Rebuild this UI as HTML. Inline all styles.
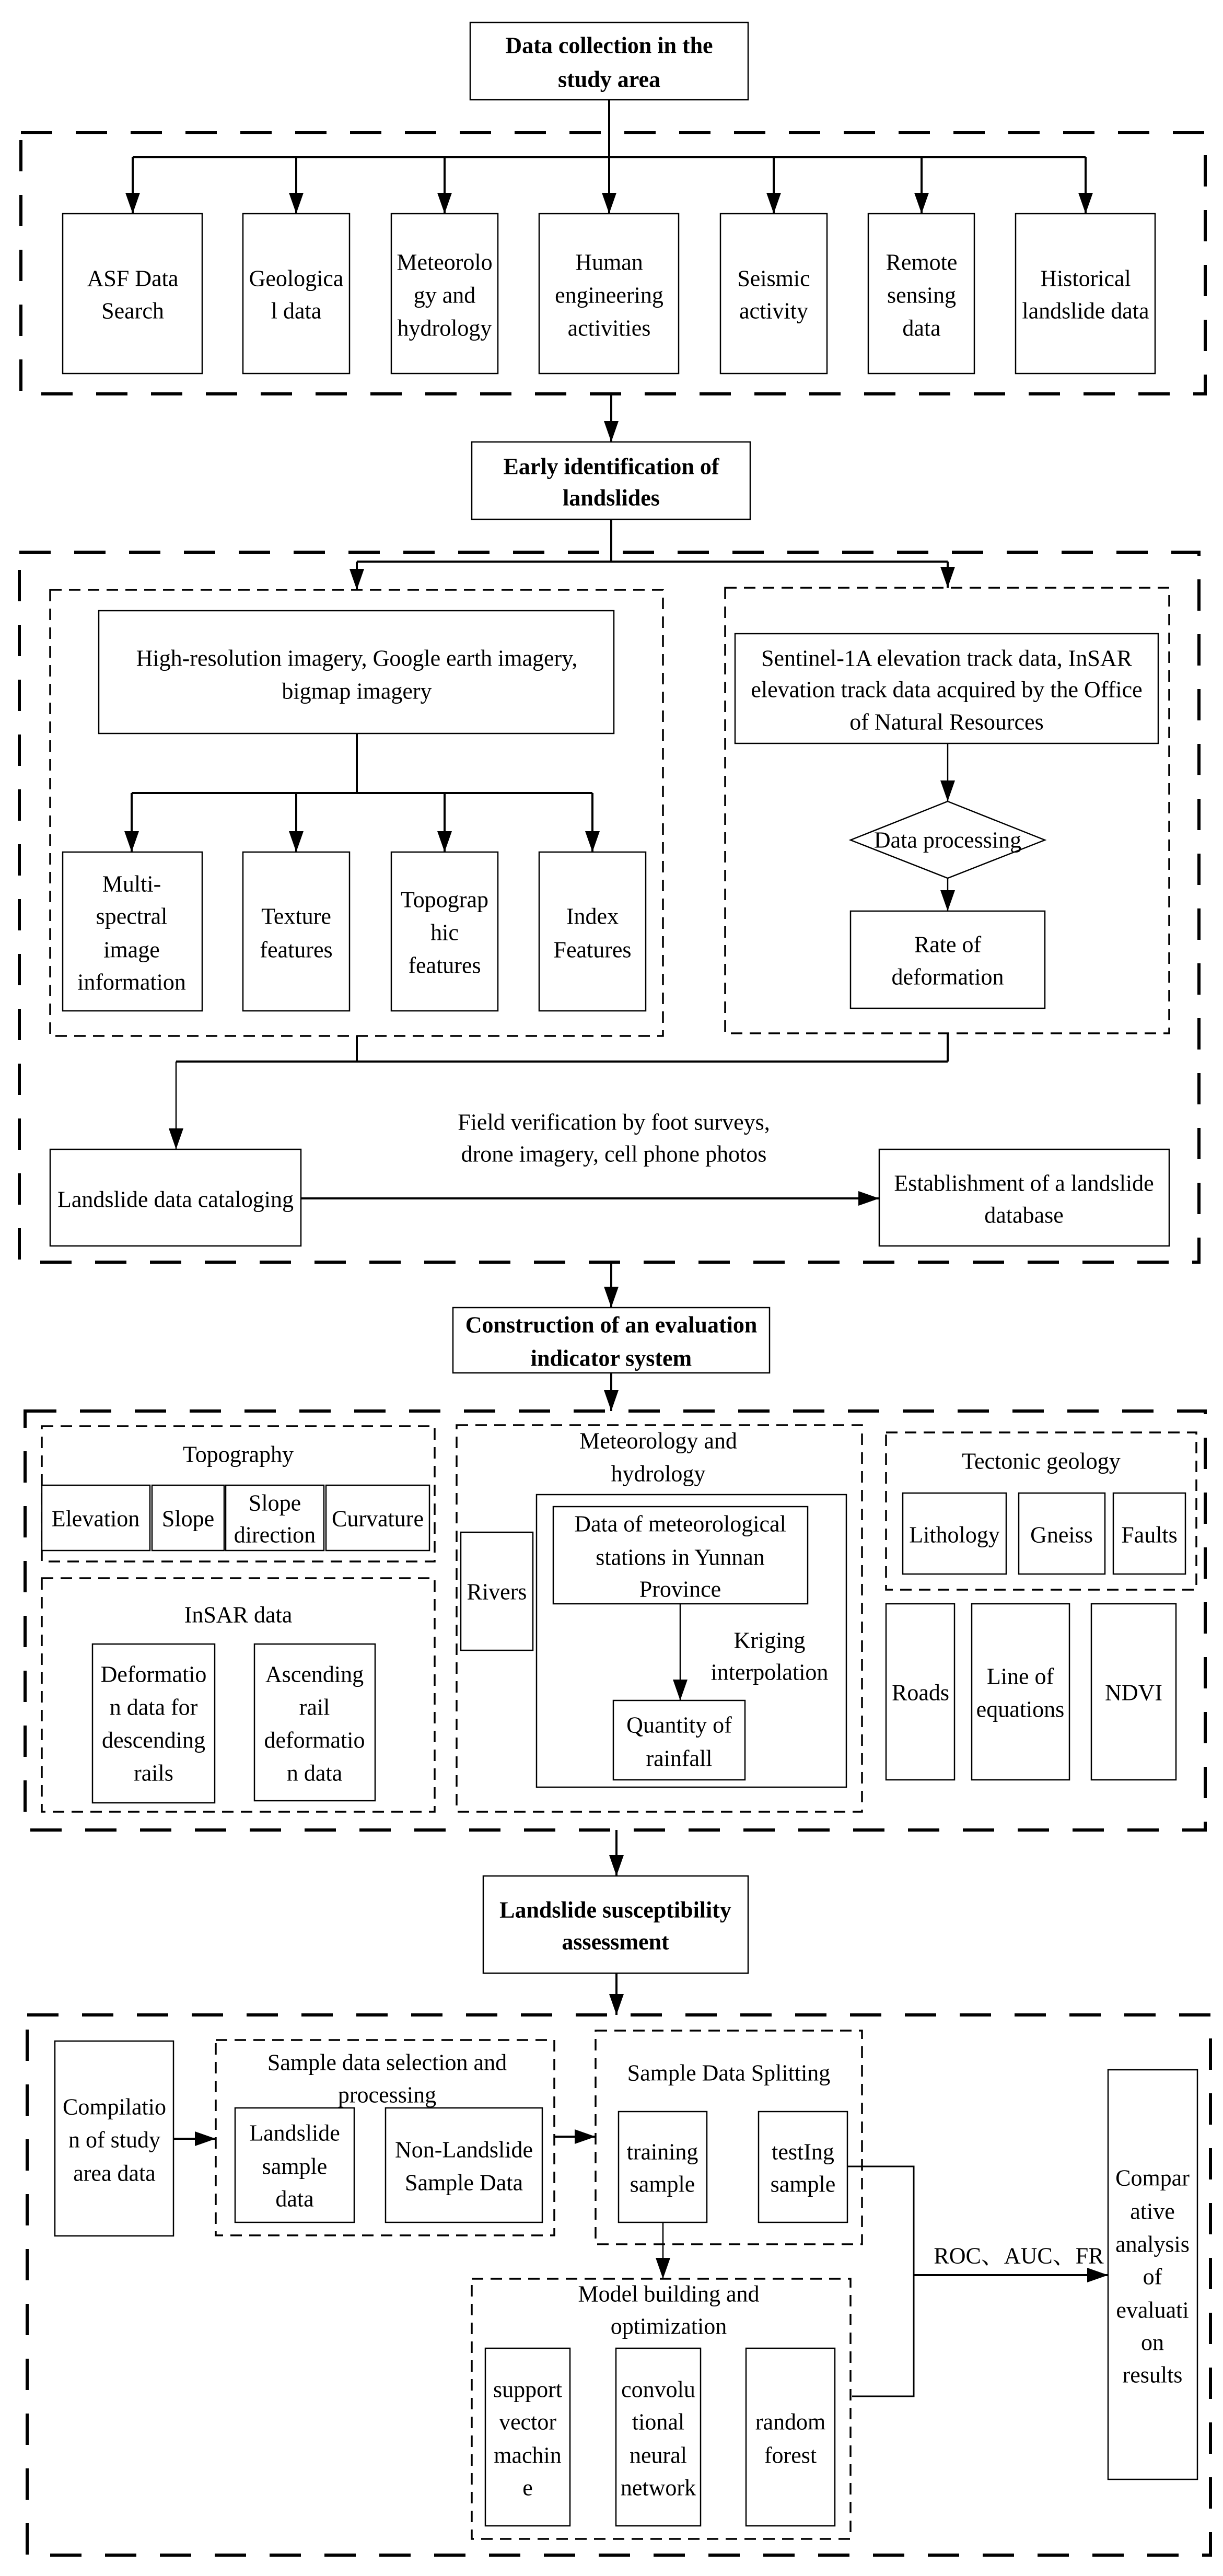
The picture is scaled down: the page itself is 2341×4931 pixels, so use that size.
<!DOCTYPE html>
<html><head><meta charset="utf-8"><style>
html,body{margin:0;padding:0;background:#fff;}
svg{display:block;}
svg text{font-family:"Liberation Serif","Times New Roman",Times,"DejaVu Serif","Noto Serif CJK SC",serif;font-size:44px;fill:#000;text-anchor:middle;dominant-baseline:central;}
.b{font-weight:bold;}
.box{fill:#fff;stroke:#000;stroke-width:2.5;}
.od{fill:none;stroke:#000;stroke-width:6;stroke-dasharray:60 45;}
.id{fill:none;stroke:#000;stroke-width:3.5;stroke-dasharray:22 14;}
.ln{fill:none;stroke:#000;stroke-width:4;}
.la{fill:none;stroke:#000;stroke-width:4;marker-end:url(#ah);}
.ls{fill:none;stroke:#000;stroke-width:2.5;marker-end:url(#ah);}
</style></head><body>
<svg width="2341" height="4931" viewBox="0 0 2341 4931" xmlns="http://www.w3.org/2000/svg" font-family="Liberation Serif, Times New Roman, serif">
<defs>
<marker id="ah" markerUnits="userSpaceOnUse" markerWidth="44" markerHeight="30" refX="40" refY="14" orient="auto">
<path d="M0,0 L40,14 L0,28 Z" fill="#000"/>
</marker>
</defs>

<!-- Section 1 -->
<rect class="box" x="900" y="43" width="532" height="148"/>
<text class="b" x="1166" y="87">Data collection in the</text>
<text class="b" x="1166" y="152">study area</text>
<rect class="od" x="40" y="254" width="2267" height="500"/>
<line class="ln" x1="1166" y1="191" x2="1166" y2="301"/>
<line class="ln" x1="254" y1="301" x2="2078" y2="301"/>
<line class="la" x1="254" y1="301" x2="254" y2="409"/>
<line class="la" x1="567" y1="301" x2="567" y2="409"/>
<line class="la" x1="851" y1="301" x2="851" y2="409"/>
<line class="la" x1="1166" y1="301" x2="1166" y2="409"/>
<line class="la" x1="1481" y1="301" x2="1481" y2="409"/>
<line class="la" x1="1764" y1="301" x2="1764" y2="409"/>
<line class="la" x1="2078" y1="301" x2="2078" y2="409"/>
<rect class="box" x="120" y="409" width="267" height="306"/>
<text x="254" y="533">ASF Data</text><text x="254" y="595">Search</text>
<rect class="box" x="465" y="409" width="204" height="306"/>
<text x="567" y="533">Geologica</text><text x="567" y="595">l data</text>
<rect class="box" x="749" y="409" width="204" height="306"/>
<text x="851" y="502">Meteorolo</text><text x="851" y="565">gy and</text><text x="851" y="628">hydrology</text>
<rect class="box" x="1032" y="409" width="267" height="306"/>
<text x="1166" y="502">Human</text><text x="1166" y="565">engineering</text><text x="1166" y="628">activities</text>
<rect class="box" x="1379" y="409" width="204" height="306"/>
<text x="1481" y="533">Seismic</text><text x="1481" y="595">activity</text>
<rect class="box" x="1662" y="409" width="203" height="306"/>
<text x="1764" y="502">Remote</text><text x="1764" y="565">sensing</text><text x="1764" y="628">data</text>
<rect class="box" x="1944" y="409" width="267" height="306"/>
<text x="2078" y="533">Historical</text><text x="2078" y="595">landslide data</text>

<line class="la" x1="1170" y1="754" x2="1170" y2="846"/>
<rect class="box" x="903" y="846" width="533" height="148"/>
<text class="b" x="1170" y="893">Early identification of</text>
<text class="b" x="1170" y="953">landslides</text>

<!-- Section 2 -->
<rect class="od" x="37" y="1057" width="2258" height="1359"/>
<line class="ln" x1="1170" y1="994" x2="1170" y2="1075"/>
<line class="ln" x1="683" y1="1075" x2="1814" y2="1075"/>
<line class="la" x1="683" y1="1075" x2="683" y2="1129"/>
<line class="la" x1="1814" y1="1075" x2="1814" y2="1125"/>
<rect class="id" x="96" y="1129" width="1173" height="854"/>
<rect class="id" x="1388" y="1125" width="850" height="853"/>
<rect class="box" x="189" y="1169" width="986" height="235"/>
<text x="683" y="1260">High-resolution imagery, Google earth imagery,</text>
<text x="683" y="1323">bigmap imagery</text>
<line class="ln" x1="683" y1="1404" x2="683" y2="1518"/>
<line class="ln" x1="252" y1="1518" x2="1134" y2="1518"/>
<line class="la" x1="252" y1="1518" x2="252" y2="1631"/>
<line class="la" x1="567" y1="1518" x2="567" y2="1631"/>
<line class="la" x1="851" y1="1518" x2="851" y2="1631"/>
<line class="la" x1="1134" y1="1518" x2="1134" y2="1631"/>
<rect class="box" x="120" y="1631" width="267" height="304"/>
<text x="252" y="1692">Multi-</text><text x="252" y="1754">spectral</text><text x="252" y="1818">image</text><text x="252" y="1880">information</text>
<rect class="box" x="465" y="1631" width="204" height="304"/>
<text x="567" y="1754">Texture</text><text x="567" y="1818">features</text>
<rect class="box" x="749" y="1631" width="204" height="304"/>
<text x="851" y="1722">Topograp</text><text x="851" y="1785">hic</text><text x="851" y="1848">features</text>
<rect class="box" x="1032" y="1631" width="204" height="304"/>
<text x="1134" y="1754">Index</text><text x="1134" y="1818">Features</text>

<rect class="box" x="1407" y="1213" width="810" height="210"/>
<text x="1812" y="1260">Sentinel-1A elevation track data, InSAR</text>
<text x="1812" y="1320">elevation track data acquired by the Office</text>
<text x="1812" y="1382">of Natural Resources</text>
<line class="ls" x1="1814" y1="1423" x2="1814" y2="1534"/>
<polygon points="1814,1534 2000,1608 1814,1681 1628,1608" fill="#fff" stroke="#000" stroke-width="2.5"/>
<text x="1814" y="1608">Data processing</text>
<line class="ls" x1="1814" y1="1681" x2="1814" y2="1744"/>
<rect class="box" x="1628" y="1744" width="372" height="186"/>
<text x="1814" y="1808">Rate of</text><text x="1814" y="1870">deformation</text>

<line class="ln" x1="683" y1="1983" x2="683" y2="2032"/>
<line class="ln" x1="1814" y1="1978" x2="1814" y2="2032"/>
<line class="ln" x1="337" y1="2032" x2="1814" y2="2032"/>
<line class="ls" x1="337" y1="2032" x2="337" y2="2200"/>
<rect class="box" x="96" y="2200" width="480" height="185"/>
<text x="336" y="2296">Landslide data cataloging</text>
<line class="la" x1="576" y1="2294" x2="1683" y2="2294"/>
<text x="1175" y="2148">Field verification by foot surveys,</text>
<text x="1175" y="2209">drone imagery, cell phone photos</text>
<rect class="box" x="1683" y="2200" width="555" height="185"/>
<text x="1960" y="2265">Establishment of a landslide</text>
<text x="1960" y="2326">database</text>

<line class="la" x1="1170" y1="2416" x2="1170" y2="2503"/>
<rect class="box" x="867" y="2503" width="606" height="125"/>
<text class="b" x="1170" y="2536">Construction of an evaluation</text>
<text class="b" x="1170" y="2600">indicator system</text>
<line class="la" x1="1170" y1="2628" x2="1170" y2="2701"/>

<!-- Section 3 -->
<rect class="od" x="48" y="2701" width="2259" height="802"/>
<rect class="id" x="80" y="2730" width="752" height="259"/>
<text x="456" y="2784">Topography</text>
<rect class="box" x="80" y="2843" width="207" height="125"/><text x="183" y="2907">Elevation</text>
<rect class="box" x="291" y="2843" width="138" height="125"/><text x="360" y="2907">Slope</text>
<rect class="box" x="432" y="2843" width="188" height="125"/><text x="526" y="2877">Slope</text><text x="526" y="2938">direction</text>
<rect class="box" x="624" y="2843" width="198" height="125"/><text x="723" y="2907">Curvature</text>

<rect class="id" x="80" y="3021" width="752" height="447"/>
<text x="456" y="3091">InSAR data</text>
<rect class="box" x="177" y="3147" width="234" height="304"/>
<text x="294" y="3205">Deformatio</text><text x="294" y="3268">n data for</text><text x="294" y="3331">descending</text><text x="294" y="3394">rails</text>
<rect class="box" x="487" y="3147" width="231" height="300"/>
<text x="602" y="3205">Ascending</text><text x="602" y="3268">rail</text><text x="602" y="3331">deformatio</text><text x="602" y="3394">n data</text>

<rect class="id" x="874" y="2728" width="776" height="740"/>
<text x="1260" y="2758">Meteorology and</text><text x="1260" y="2821">hydrology</text>
<rect class="box" x="882" y="2933" width="138" height="226"/><text x="951" y="3047">Rivers</text>
<rect class="box" x="1027" y="2861" width="593" height="560"/>
<rect class="box" x="1059" y="2884" width="487" height="186"/>
<text x="1302" y="2917">Data of meteorological</text><text x="1302" y="2981">stations in Yunnan</text><text x="1302" y="3042">Province</text>
<line class="ls" x1="1302" y1="3070" x2="1302" y2="3255"/>
<text x="1473" y="3140">Kriging</text><text x="1473" y="3201">interpolation</text>
<rect class="box" x="1174" y="3255" width="252" height="152"/>
<text x="1300" y="3302">Quantity of</text><text x="1300" y="3366">rainfall</text>

<rect class="id" x="1696" y="2742" width="594" height="301"/>
<text x="1993" y="2797">Tectonic geology</text>
<rect class="box" x="1728" y="2858" width="198" height="155"/><text x="1827" y="2938">Lithology</text>
<rect class="box" x="1950" y="2858" width="165" height="155"/><text x="2032" y="2938">Gneiss</text>
<rect class="box" x="2131" y="2858" width="138" height="155"/><text x="2200" y="2938">Faults</text>
<rect class="box" x="1696" y="3070" width="131" height="337"/><text x="1762" y="3240">Roads</text>
<rect class="box" x="1860" y="3070" width="187" height="337"/><text x="1953" y="3209">Line of</text><text x="1953" y="3272">equations</text>
<rect class="box" x="2089" y="3070" width="162" height="337"/><text x="2170" y="3240">NDVI</text>

<line class="la" x1="1180" y1="3503" x2="1180" y2="3591"/>
<rect class="box" x="925" y="3591" width="507" height="186"/>
<text class="b" x="1178" y="3656">Landslide susceptibility</text>
<text class="b" x="1178" y="3717">assessment</text>
<line class="la" x1="1180" y1="3777" x2="1180" y2="3857"/>

<!-- Section 4 -->
<rect class="od" x="52" y="3857" width="2265" height="1034"/>
<rect class="box" x="105" y="3907" width="227" height="373"/>
<text x="219" y="4033">Compilatio</text><text x="219" y="4096">n of study</text><text x="219" y="4160">area data</text>
<line class="la" x1="332" y1="4094" x2="413" y2="4094"/>
<rect class="id" x="413" y="3905" width="648" height="374"/>
<text x="741" y="3948">Sample data selection and</text><text x="741" y="4010">processing</text>
<rect class="box" x="450" y="4035" width="228" height="219"/>
<text x="564" y="4083">Landslide</text><text x="564" y="4147">sample</text><text x="564" y="4209">data</text>
<rect class="box" x="738" y="4035" width="300" height="219"/>
<text x="888" y="4115">Non-Landslide</text><text x="888" y="4178">Sample Data</text>
<line class="la" x1="1061" y1="4090" x2="1140" y2="4090"/>
<rect class="id" x="1140" y="3887" width="510" height="409"/>
<text x="1395" y="3968">Sample Data Splitting</text>
<rect class="box" x="1184" y="4042" width="169" height="212"/>
<text x="1268" y="4119">training</text><text x="1268" y="4181">sample</text>
<rect class="box" x="1452" y="4042" width="170" height="212"/>
<text x="1537" y="4119">testIng</text><text x="1537" y="4181">sample</text>
<line class="ls" x1="1269" y1="4254" x2="1269" y2="4362"/>
<rect class="id" x="903" y="4362" width="725" height="498"/>
<text x="1280" y="4391">Model building and</text><text x="1280" y="4453">optimization</text>
<rect class="box" x="929" y="4495" width="162" height="340"/>
<text x="1010" y="4574">support</text><text x="1010" y="4636">vector</text><text x="1010" y="4700">machin</text><text x="1010" y="4762">e</text>
<rect class="box" x="1179" y="4495" width="162" height="340"/>
<text x="1260" y="4574">convolu</text><text x="1260" y="4636">tional</text><text x="1260" y="4700">neural</text><text x="1260" y="4762">network</text>
<rect class="box" x="1428" y="4495" width="170" height="340"/>
<text x="1513" y="4636">random</text><text x="1513" y="4700">forest</text>
<polyline class="ln" points="1622,4147 1749,4147 1749,4587 1631,4587" style="stroke-width:3"/>
<line class="la" x1="1749" y1="4355" x2="2121" y2="4355"/>
<text x="1950" y="4318">ROC、AUC、FR</text>
<rect class="box" x="2121" y="3962" width="171" height="784"/>
<text x="2206" y="4169">Compar</text><text x="2206" y="4233">ative</text><text x="2206" y="4296">analysis</text><text x="2206" y="4358">of</text><text x="2206" y="4422">evaluati</text><text x="2206" y="4484">on</text><text x="2206" y="4546">results</text>
</svg>
</body></html>
